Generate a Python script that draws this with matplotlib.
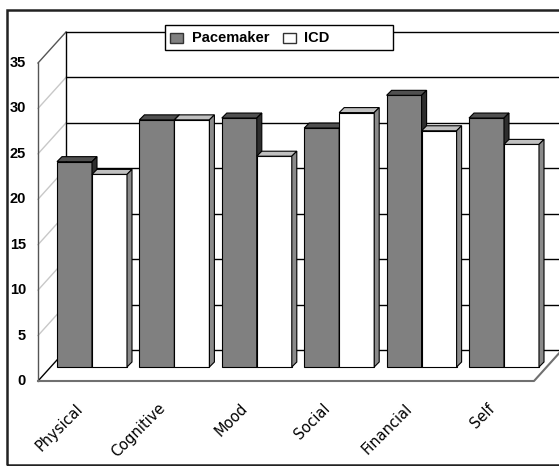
import matplotlib.pyplot as plt
from matplotlib.patches import Rectangle

categories = ['Physical', 'Cognitive', 'Mood', 'Social', 'Financial', 'Self']
pacemaker = [22.6, 27.2, 27.4, 26.3, 29.9, 27.4]
icd = [21.2, 27.2, 23.2, 28.0, 26.0, 24.5]
yticks = [0, 5, 10, 15, 20, 25, 30, 35]
series = ['Pacemaker', 'ICD']

W, H = 559, 466
PX, PY = 82.4, 9.086     # pixels per category / per value unit
X0, Y0 = 92, 367         # pixel of category 0 centre and of value 0 (bar plane)

fig = plt.figure(figsize=(W / 100, H / 100), dpi=100)
ax = fig.add_axes([0, 0, 1, 1])
ax.set_xlim(-X0 / PX, (W - X0) / PX)
ax.set_ylim((Y0 - H) / PY, Y0 / PY)
ax.axis('off')


def shift(x, y, d):
    # move a point of the bar plane by a pixel offset (right, up)
    return x + d[0] / PX, y + d[1] / PY


FRONT = (-12.6, -14)
BACK = (15.4, 17)
DEPTH = (5, 5)
xl, xr = (50.6 - X0) / PX, (546.6 - X0) / PX
top = yticks[-1]

# back wall gridlines
for v in yticks:
    a = shift(xl, v, BACK)
    b = shift(xr + 1, v, BACK)
    ax.plot([a[0], b[0]], [a[1], b[1]], color='black', lw=1, zorder=1)

# left wall
for v in yticks:
    a = shift(xl, v, FRONT)
    b = shift(xl, v, BACK)
    c = '#c8c8c8'
    if v == 0:
        c = 'black'
    elif v == top:
        c = '#555555'
    ax.plot([a[0], b[0]], [a[1], b[1]], color=c, lw=1, zorder=1)
a, b = shift(xl, 0, FRONT), shift(xl, top, FRONT)
ax.plot([a[0], b[0]], [a[1], b[1]], color='#555555', lw=1, zorder=1)
a, b = shift(xl, 0, BACK), shift(xl, top, BACK)
ax.plot([a[0], b[0]], [a[1], b[1]], color='black', lw=1, zorder=1)

# floor edges
a, b, c = shift(xl, 0, FRONT), shift(xr, 0, FRONT), shift(xr, 0, BACK)
ax.plot([a[0], b[0], c[0]], [a[1], b[1], c[1]], color='#707070', lw=1.5, zorder=1)

w = 35 / PX
dx, dy = DEPTH[0] / PX, DEPTH[1] / PY


def bar3d(x, h, front, topc, side):
    ax.bar(x, h, width=w, align='edge', color=front, edgecolor='black', lw=0.8, zorder=3)
    ax.fill([x, x + dx, x + w + dx, x + w], [h, h + dy, h + dy, h],
            facecolor=topc, edgecolor='black', lw=0.8, zorder=3)
    ax.fill([x + w, x + w + dx, x + w + dx, x + w], [0, dy, h + dy, h],
            facecolor=side, edgecolor='black', lw=0.8, zorder=3)


for i in range(len(categories)):
    bar3d(i - w, pacemaker[i], '#808080', '#505050', '#2e2e2e')
    bar3d(i, icd[i], 'white', '#c0c0c0', '#8a8a8a')

# value labels on the front axis
for v in yticks:
    x, y = shift(xl, v, FRONT)
    ax.text(x - 12 / PX, y, str(v), ha='right', va='center',
            fontsize=10.5, fontweight='bold', family='Liberation Sans')

# category labels
for i, name in enumerate(categories):
    x, y = shift(i, 0, FRONT)
    ax.text(x + 1 / PX, y - 25 / PY, name, rotation=45, rotation_mode='anchor',
            ha='right', va='center', fontsize=10.5, family='DejaVu Sans')


def fx(p):
    return p / W


def fy(p):
    return 1 - p / H


# legend box
ax.add_patch(Rectangle((fx(165), fy(50)), fx(393) - fx(165), fy(25) - fy(50),
                       transform=ax.transAxes, facecolor='white', edgecolor='black',
                       lw=1, zorder=5))
for sx, tx, name, col in [(170, 192, series[0], '#808080'), (283, 304, series[1], 'white')]:
    ax.add_patch(Rectangle((fx(sx), fy(43)), fx(13), fy(33) - fy(43),
                           transform=ax.transAxes, facecolor=col, edgecolor='#333333',
                           lw=1, zorder=6))
    ax.text(fx(tx), fy(38), name, transform=ax.transAxes, ha='left', va='center',
            fontsize=10.5, fontweight='bold', family='Liberation Sans', zorder=6)

# outer frame
ax.add_patch(Rectangle((fx(7), fy(465)), 1, fy(10) - fy(465), transform=ax.transAxes,
                       facecolor='none', edgecolor='#222222', lw=1.8, zorder=7))

fig.savefig('out.png', dpi=100)
